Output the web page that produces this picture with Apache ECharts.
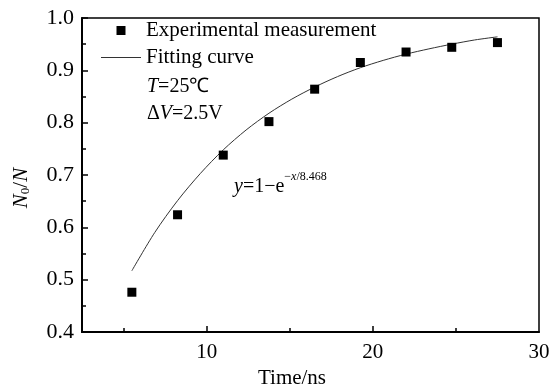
<!DOCTYPE html>
<html>
<head>
<meta charset="utf-8">
<script src="https://cdn.jsdelivr.net/npm/echarts@6/dist/echarts.min.js"></script>
<style>html,body{margin:0;padding:0;background:#fff;}#c{width:553px;height:385px;}</style>
</head>
<body>
<div id="c"></div>
<script>
// Experimental measurement
const timeNs = [5.5, 8.25, 11, 13.75, 16.5, 19.25, 22, 24.75, 27.5];
const ratio = [0.476, 0.624, 0.738, 0.802, 0.864, 0.915, 0.935, 0.944, 0.953];
// Fitting curve
const fitX = [5.5, 6.875, 8.25, 9.625, 11, 12.375, 13.75, 15.125, 16.5, 17.875, 19.25, 20.625, 22, 23.375, 24.75, 26.125, 27.5];
const fitY = [0.517, 0.590, 0.651, 0.703, 0.748, 0.786, 0.818, 0.845, 0.868, 0.888, 0.905, 0.919, 0.931, 0.941, 0.950, 0.958, 0.964];
const yTicks = [0.4, 0.5, 0.6, 0.7, 0.8, 0.9, 1.0];
const xLabels = [10, 20, 30];
const xMajor = [10, 20];
const xMinor = [5, 15, 25];

const serif = '"Liberation Serif", "Times New Roman", serif';
const chart = echarts.init(document.getElementById('c'));
chart.setOption({
  animation: false,
  backgroundColor: '#fff',
  grid: { left: 82, right: 14, top: 18, bottom: 53, show: true, borderColor: '#000', borderWidth: 1.5,
          containLabel: false, outerBoundsMode: 'none' },
  legend: {
    orient: 'vertical', left: 101, top: 20, padding: 0,
    itemWidth: 40, itemHeight: 9, itemGap: 6,
    textStyle: { fontFamily: serif, fontSize: 21, color: '#000', lineHeight: 20 },
    data: [
      { name: 'Experimental measurement', icon: 'path://M0,0H10V10H0Z' },
      { name: 'Fitting curve', icon: 'path://M0,0H40V1H0Z' }
    ]
  },
  xAxis: [{
    type: 'value', min: 2.5, max: 30,
    name: 'Time/ns', nameLocation: 'middle', nameGap: 33,
    nameTextStyle: { fontFamily: serif, fontSize: 21, color: '#000', padding: [0, 37, 0, 0] },
    axisLine: { lineStyle: { color: '#000', width: 2 } },
    axisTick: { inside: true, length: 6, lineStyle: { color: '#000', width: 1.5 }, customValues: xMajor },
    axisLabel: { customValues: xLabels, fontFamily: serif, fontSize: 21, color: '#000', margin: 10 },
    splitLine: { show: false }
  }, {
    type: 'value', min: 2.5, max: 30, position: 'bottom',
    axisLine: { show: false },
    axisTick: { inside: true, length: 4, lineStyle: { color: '#000', width: 1.5 }, customValues: xMinor },
    axisLabel: { show: false },
    splitLine: { show: false }
  }],
  yAxis: {
    type: 'value', min: 0.4, max: 1.0, interval: 0.1,
    name: '{i|N}{s|0}{n|/}{i|N}', nameLocation: 'middle', nameGap: 50,
    nameTextStyle: {
      fontFamily: serif, fontSize: 21, color: '#000', padding: [0, 26, 0, 0],
      rich: {
        i: { fontFamily: serif, fontStyle: 'italic', fontSize: 21, color: '#000' },
        n: { fontFamily: serif, fontSize: 21, color: '#000' },
        s: { fontFamily: serif, fontSize: 13, color: '#000', verticalAlign: 'bottom', padding: [8, 0, 0, 0] }
      }
    },
    axisLine: { show: true, lineStyle: { color: '#000', width: 2 } },
    axisTick: { inside: true, length: 6, lineStyle: { color: '#000', width: 1.5 } },
    minorTick: { show: true, splitNumber: 2, length: 4, lineStyle: { color: '#000', width: 1.5 } },
    axisLabel: { fontFamily: serif, fontSize: 22, color: '#000', margin: 8, formatter: v => v.toFixed(1) },
    splitLine: { show: false }, minorSplitLine: { show: false }
  },
  series: [{
    name: 'Experimental measurement', type: 'scatter', xAxisIndex: 0,
    symbol: 'rect', symbolSize: 9,
    itemStyle: { color: '#000', opacity: 1 },
    data: timeNs.map((x, i) => [x, ratio[i]]), z: 3
  }, {
    name: 'Fitting curve', type: 'line', xAxisIndex: 0,
    symbol: 'none', smooth: 0.3,
    lineStyle: { color: '#333', width: 1 },
    itemStyle: { color: '#333' },
    data: fitX.map((x, i) => [x, fitY[i]]), z: 2
  }],
  graphic: [
    { type: 'text', x: 147, y: 87, style: { text: '{i|T}{n|=25℃}', verticalAlign: 'middle',
      rich: { i: { font: 'italic 20px ' + serif, fill: '#000' }, n: { font: '20px ' + serif, fill: '#000' } } } },
    { type: 'text', x: 147, y: 114, style: { text: '{n|Δ}{i|V}{n|=2.5V}', verticalAlign: 'middle',
      rich: { i: { font: 'italic 20px ' + serif, fill: '#000' }, n: { font: '20px ' + serif, fill: '#000' } } } },
    { type: 'text', x: 234, y: 184, style: { text: '{i|y}{n|=1−e}{s|−}{si|x}{s|/8.468}', verticalAlign: 'middle',
      rich: {
        i: { font: 'italic 20px ' + serif, fill: '#000', lineHeight: 26, verticalAlign: 'bottom' },
        n: { font: '20px ' + serif, fill: '#000', lineHeight: 26, verticalAlign: 'bottom' },
        s: { font: '12px ' + serif, fill: '#000', verticalAlign: 'top', lineHeight: 12 },
        si: { font: 'italic 12px ' + serif, fill: '#000', verticalAlign: 'top', lineHeight: 12 }
      } } }
  ]
});
</script>
</body>
</html>
